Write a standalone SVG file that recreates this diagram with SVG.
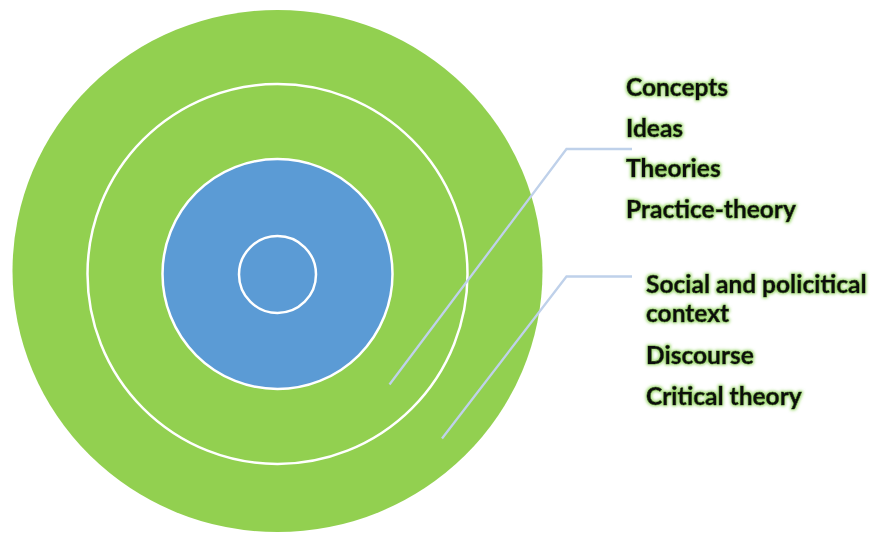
<svg xmlns="http://www.w3.org/2000/svg" width="873" height="535" viewBox="0 0 873 535">
  <defs>
    <filter id="glow" x="-10%" y="-30%" width="120%" height="160%">
      <feMorphology in="SourceAlpha" operator="dilate" radius="1.2" result="d"/>
      <feGaussianBlur in="d" stdDeviation="1.8" result="b"/>
      <feFlood flood-color="#8fd45a" flood-opacity="0.85"/>
      <feComposite in2="b" operator="in" result="g"/>
      <feMerge>
        <feMergeNode in="g"/>
        <feMergeNode in="SourceGraphic"/>
      </feMerge>
    </filter>
  </defs>
  <style>
    .ring { stroke: #ffffff; stroke-width: 2.5; }
    .green { fill: #92d050; }
    .blue { fill: #5b9bd5; }
    .conn { fill: none; stroke: #bfd1ea; stroke-width: 2.3; }
    .lbl { font-family: Lato, "Liberation Sans", sans-serif; font-weight: bold; font-size: 24.5px; fill: #0a0a0a; stroke: #0a0a0a; stroke-width: 0.6; filter: url(#glow); }
  </style>
  <rect width="873" height="535" fill="#ffffff"/>
  <g id="outer-ring">
    <ellipse class="green" cx="277.5" cy="271" rx="265" ry="261"/>
  </g>
  <g id="middle-ring">
    <circle class="green ring" cx="277.5" cy="274" r="190"/>
  </g>
  <g id="inner-ring">
    <circle class="blue ring" cx="277.5" cy="274" r="115"/>
  </g>
  <g id="core">
    <circle class="blue ring" cx="277.5" cy="274.5" r="38.5"/>
  </g>
  <g id="connectors">
    <polyline class="conn" points="389.5,384.5 566.5,149 632,149"/>
    <polyline class="conn" points="442,438.5 566.5,276.5 632,276.5"/>
  </g>
  <g id="labels-inner">
    <text class="lbl" x="626" y="96">Concepts</text>
    <text class="lbl" x="626" y="136.5">Ideas</text>
    <text class="lbl" x="626" y="177">Theories</text>
    <text class="lbl" x="626" y="217.5">Practice-theory</text>
  </g>
  <g id="labels-outer">
    <text class="lbl" x="646" y="293">Social and policitical</text>
    <text class="lbl" x="646" y="322">context</text>
    <text class="lbl" x="646" y="364">Discourse</text>
    <text class="lbl" x="646" y="405">Critical theory</text>
  </g>
</svg>
